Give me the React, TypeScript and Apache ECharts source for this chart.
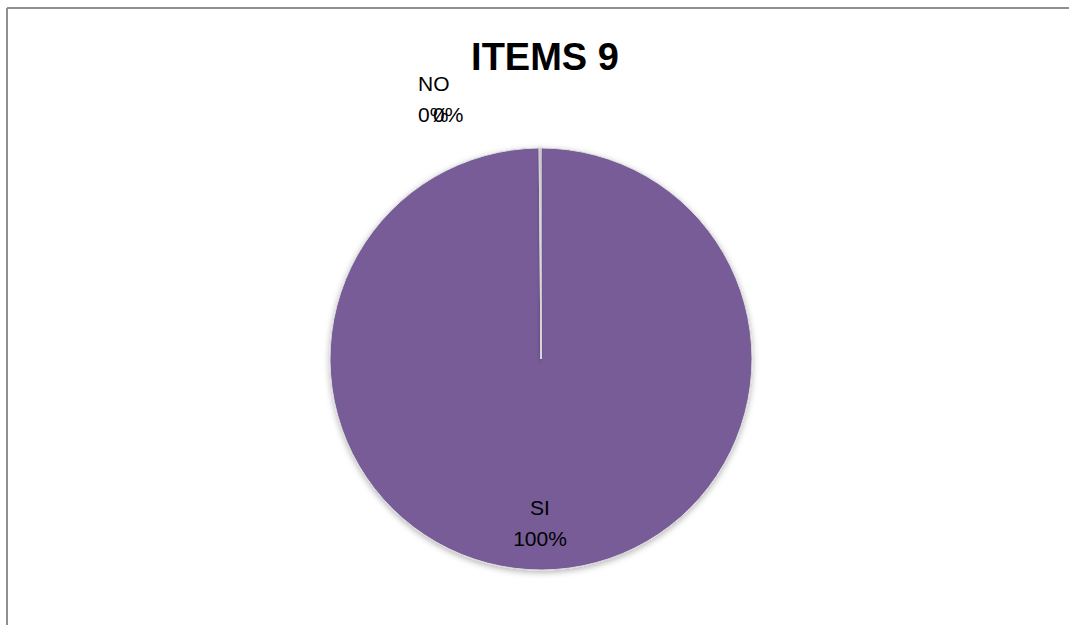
import React, { useEffect, useRef } from "react";
import * as echarts from "echarts";

const categories = ["SI", "NO", ""];
const values = [100, 0, 0];
const titleText = "ITEMS 9";

export default function App() {
  const ref = useRef<HTMLDivElement>(null);
  useEffect(() => {
    if (!ref.current) return;
    const chart = echarts.init(ref.current, null, { renderer: "svg" });
    const labelPos = [
      { x: 540, y: 523, align: "center" },
      { x: 418, y: 99, align: "left" },
      { x: 433, y: 99, align: "left" },
    ];
    chart.setOption({
      animation: false,
      backgroundColor: "#ffffff",
      title: {
        text: titleText,
        left: 540,
        top: 33,
        textAlign: "center",
        textStyle: {
          fontFamily: "Liberation Sans",
          fontWeight: "bold",
          fontSize: 38,
          color: "#000000",
        },
      },
      graphic: [
        { type: "line", shape: { x1: 7, y1: 8, x2: 1069, y2: 8 }, style: { stroke: "#8f8f8f", lineWidth: 2 } },
        { type: "line", shape: { x1: 7, y1: 8, x2: 7, y2: 625 }, style: { stroke: "#8f8f8f", lineWidth: 2 } },
      ],
      series: [
        {
          type: "pie",
          center: [541, 359],
          radius: 211,
          startAngle: 90,
          clockwise: true,
          minAngle: 0.25,
          stillShowZeroSum: true,
          minShowLabelAngle: 0,
          avoidLabelOverlap: false,
          data: categories.map((c, i) => ({ name: c, value: values[i] })),
          itemStyle: {
            color: "#775C97",
            borderColor: "#dcdcdc",
            borderWidth: 1,
            shadowBlur: 6,
            shadowOffsetY: 2,
            shadowColor: "rgba(0,0,0,0.3)",
          },
          label: {
            show: true,
            position: "outside",
            formatter: (p: any) => `${p.name}\n${Math.round(p.percent)}%`,
            fontFamily: "Liberation Sans",
            fontSize: 21,
            lineHeight: 31,
            color: "#000000",
          },
          labelLine: { show: false },
          labelLayout: (params: any) => {
            const lp = labelPos[params.dataIndex];
            return { x: lp.x, y: lp.y, align: lp.align, verticalAlign: "middle", hideOverlap: false };
          },
          emphasis: { disabled: true },
        },
      ],
    });
    return () => chart.dispose();
  }, []);
  return (
    <div
      ref={ref}
      style={{ position: "fixed", left: 0, top: 0, width: 1069, height: 625 }}
    />
  );
}
